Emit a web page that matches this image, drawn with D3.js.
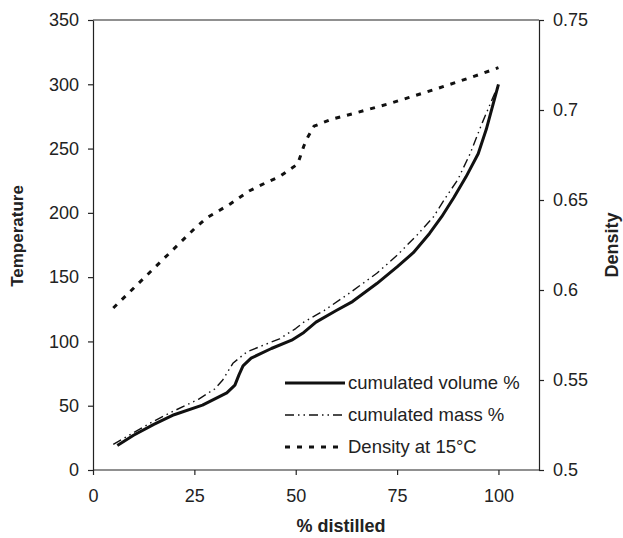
<!DOCTYPE html>
<html>
<head>
<meta charset="utf-8">
<script src="https://cdn.jsdelivr.net/npm/d3@7"></script>
<style>
  body { margin: 0; background: #fff; }
  svg { display: block; font-family: "Liberation Sans", Arial, sans-serif; }
  .axis text { font-size: 18px; fill: #222; }
  .axis path, .axis line { stroke: #222; stroke-width: 1.2; }
  .title { font-weight: bold; fill: #222; }
</style>
</head>
<body>
<svg id="chart" width="623" height="538"></svg>
<script>
// % distilled vs temperature, cumulated volume
const volX = [6, 10, 15, 20, 27, 33, 35, 36, 37, 39, 44, 49, 52, 55, 60, 64, 70, 75, 79, 83, 86, 89, 92, 95, 97, 100];
const volT = [19, 27, 35.5, 43, 50.5, 60, 66, 74, 81, 87, 94.5, 101, 107, 115, 124, 131, 145, 158, 169, 184, 197, 212, 228, 246, 265, 300];

// cumulated mass
const massX = [5, 10, 15, 20, 26, 30, 32, 34.5, 38, 42, 46, 50, 52, 57, 63, 70, 75, 80, 84, 87, 90, 93, 96, 100];
const massT = [20, 29, 38, 46, 55, 63, 70, 83, 92, 97, 102, 110, 115, 124, 137, 153, 167, 183, 197, 212, 226, 246, 270, 300];

// density at 15 C (right axis)
const densX = [5, 10, 15, 20, 25, 28, 34, 38.5, 43, 46, 50.5, 52, 53, 54.5, 59, 65, 73, 78, 85, 90, 95, 100];
const densD = [0.59, 0.601, 0.612, 0.623, 0.634, 0.64, 0.648, 0.655, 0.66, 0.663, 0.67, 0.68, 0.685, 0.691, 0.695, 0.6985, 0.7035, 0.707, 0.712, 0.7157, 0.7195, 0.7235];

const xTicks = [0, 25, 50, 75, 100];
const tTicks = [0, 50, 100, 150, 200, 250, 300, 350];
const dTicks = [0.5, 0.55, 0.6, 0.65, 0.7, 0.75];

const legendLabels = ["cumulated volume %", "cumulated mass %", "Density at 15°C"];

const margin = { left: 93, right: 84, top: 20, bottom: 68 };
const width = 623, height = 538;

const svg = d3.select("#chart");

const x = d3.scaleLinear().domain([0, 110]).range([margin.left, width - margin.right]);
const yT = d3.scaleLinear().domain([0, 350]).range([height - margin.bottom, margin.top]);
const yD = d3.scaleLinear().domain([0.5, 0.75]).range([height - margin.bottom, margin.top]);

// axes
svg.append("g")
  .attr("class", "axis")
  .attr("transform", `translate(0,${height - margin.bottom})`)
  .call(d3.axisBottom(x).tickValues(xTicks).tickSize(5).tickPadding(14).tickSizeOuter(0))
  .call(g => g.select(".domain").attr("d", `M${x(0)},0H${x(110)}`));

svg.append("g")
  .attr("class", "axis")
  .attr("transform", `translate(${margin.left},0)`)
  .call(d3.axisLeft(yT).tickValues(tTicks).tickSize(5).tickPadding(9).tickSizeOuter(0));

svg.append("g")
  .attr("class", "axis")
  .attr("transform", `translate(${width - margin.right},0)`)
  .call(d3.axisRight(yD).tickValues(dTicks).tickSize(5).tickPadding(9).tickSizeOuter(0)
    .tickFormat(d => String(+d.toFixed(2))));

// top border
svg.append("line")
  .attr("x1", x(0)).attr("x2", x(110))
  .attr("y1", yT(350)).attr("y2", yT(350))
  .attr("stroke", "#222").attr("stroke-width", 1.2);

// titles
svg.append("text").attr("class", "title")
  .attr("font-size", 17)
  .attr("transform", "translate(23,236) rotate(-90)")
  .attr("text-anchor", "middle").text("Temperature");

svg.append("text").attr("class", "title")
  .attr("font-size", 18)
  .attr("transform", `translate(618,${(yT(0) + yT(350)) / 2}) rotate(-90)`)
  .attr("text-anchor", "middle").text("Density");

svg.append("text").attr("class", "title")
  .attr("font-size", 18)
  .attr("x", 341).attr("y", 532)
  .attr("text-anchor", "middle").text("% distilled");

// series
const styles = [
  { width: 3, dash: null },
  { width: 1.4, dash: "9,4,1.5,4,1.5,4" },
  { width: 3, dash: "5,7" }
];

const lineT = d3.line().x(d => x(d[0])).y(d => yT(d[1]));
const lineD = d3.line().x(d => x(d[0])).y(d => yD(d[1]));

const series = [
  { path: lineT(d3.zip(volX, volT)), style: styles[0] },
  { path: lineT(d3.zip(massX, massT)), style: styles[1] },
  { path: lineD(d3.zip(densX, densD)), style: styles[2] }
];

svg.selectAll("path.series")
  .data(series)
  .join("path")
  .attr("class", "series")
  .attr("d", d => d.path)
  .attr("fill", "none")
  .attr("stroke", "#111")
  .attr("stroke-width", d => d.style.width)
  .attr("stroke-dasharray", d => d.style.dash)
  .attr("stroke-linejoin", "round");

// legend
const legendY = [383, 415, 447];
const legend = svg.append("g");
legendLabels.forEach((label, i) => {
  legend.append("line")
    .attr("x1", 285).attr("x2", 345)
    .attr("y1", legendY[i]).attr("y2", legendY[i])
    .attr("stroke", "#111")
    .attr("stroke-width", styles[i].width)
    .attr("stroke-dasharray", styles[i].dash);
  legend.append("text")
    .attr("x", 348).attr("y", legendY[i])
    .attr("dy", "0.35em")
    .attr("font-size", 18.5)
    .attr("fill", "#222")
    .text(label);
});
</script>
</body>
</html>
